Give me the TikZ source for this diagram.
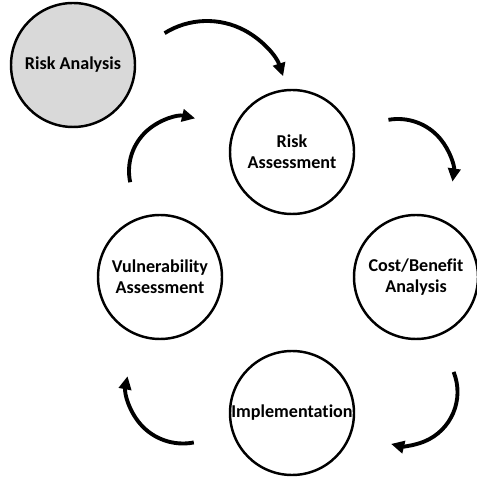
\documentclass[tikz,border=0pt]{standalone}
\usepackage{fontspec}
\setmainfont{Carlito}[Ligatures={NoCommon}]
\usetikzlibrary{arrows.meta}
\begin{document}
\begin{tikzpicture}[
    >={Triangle[length=7.5pt, width=7pt]},
    font=\fontsize{10.3}{12}\selectfont\bfseries,
    % Styles für die Phasen
    phase/.style={circle, draw, line width=1.4pt, minimum size=2.48cm, inner sep=0pt, align=center},
    mainphase/.style={phase, fill=gray!30},
    flow/.style={->, line width=2.2pt}
]
\useasboundingbox (0,0) rectangle (9.52,9.56);

% --- KREISE ---
\node[mainphase] (analysis) at (1.46, 8.26) {Risk Analysis};
\node[phase] (assess) at (5.84, 6.52) {Risk\\Assessment};
\node[phase] (cost) at (8.32, 4.02) {Cost/Benefit\\Analysis};
\node[phase] (impl) at (5.84, 1.30) {Implementation};
\node[phase] (vuln) at (3.20, 4.02) {Vulnerability\\Assessment};

% --- BOGENPFEILE (Mittelpunkte) ---
\coordinate (c1) at (4.14, 7.54);
\coordinate (c2) at (7.96, 6.08);
\coordinate (c3) at (8.08, 1.72);
\coordinate (c4) at (3.66, 1.82);
\coordinate (c5) at (3.66, 6.14);

\draw[flow] ([shift={(122:1.6)}]c1) arc[start angle=122, end angle=18, radius=1.6];
\draw[flow] ([shift={(100:1.1)}]c2) arc[start angle=100, end angle=-8, radius=1.1];
\draw[flow] ([shift={(22:1.07)}]c3) arc[start angle=22, end angle=-104, radius=1.07];
\draw[flow] ([shift={(281:1.13)}]c4) arc[start angle=281, end angle=169, radius=1.13];
\draw[flow] ([shift={(192:1.08)}]c5) arc[start angle=192, end angle=77, radius=1.08];

\end{tikzpicture}
\end{document}
